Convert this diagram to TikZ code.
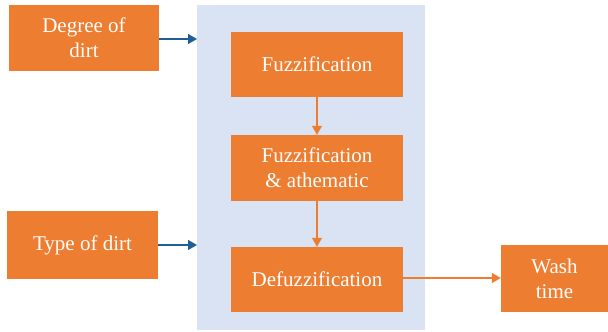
\documentclass[tikz,border=0pt]{standalone}
\usepackage{fontspec}
\setmainfont{Liberation Serif}
\usetikzlibrary{arrows.meta}
\definecolor{boxorange}{HTML}{ED7D31}
\definecolor{panelblue}{HTML}{DAE3F3}
\definecolor{linkblue}{HTML}{1F5F96}
\tikzset{
  x=1pt, y=-1pt,
  stage/.style={fill=boxorange, draw=none, text=white, align=center,
    font=\fontsize{21}{25}\selectfont, inner sep=0pt},
  feed/.style={draw=linkblue, line width=1.4pt, -{Triangle[length=9pt,width=10pt]}},
  flow/.style={draw=boxorange, line width=1.4pt, -{Triangle[length=9pt,width=10pt]}}
}
\begin{document}
\begin{tikzpicture}
\useasboundingbox (0,0) rectangle (608,332);
% processing panel
\fill[panelblue] (197,5) rectangle (425,330);
% input boxes
\node[stage, minimum width=150pt, minimum height=66pt] (degree) at (84,38) {Degree of\\dirt};
\node[stage, minimum width=151pt, minimum height=68pt] (type) at (82.5,245) {Type of dirt};
% inner stages
\node[stage, minimum width=172pt, minimum height=65pt] (fuzz) at (317,64.5) {Fuzzification};
\node[stage, minimum width=172pt, minimum height=66pt] (rules) at (317,168) {Fuzzification\\\& athematic};
\node[stage, minimum width=172pt, minimum height=65pt] (defuzz) at (317,279.5) {Defuzzification};
% output
\node[stage, minimum width=107pt, minimum height=67pt] (wash) at (554.5,278.5) {Wash\\time};
% anchor points on the panel edge
\coordinate (inA) at (197,39);
\coordinate (inB) at (197,245);
% connectors
\draw[feed] (degree.east |- inA) -- (inA);
\draw[feed] (type.east |- inB) -- (inB);
\draw[flow] (fuzz) -- (rules);
\draw[flow] (rules) -- (defuzz);
\draw[flow] (defuzz.east |- 0,278) -- (wash.west |- 0,278);
\end{tikzpicture}
\end{document}
